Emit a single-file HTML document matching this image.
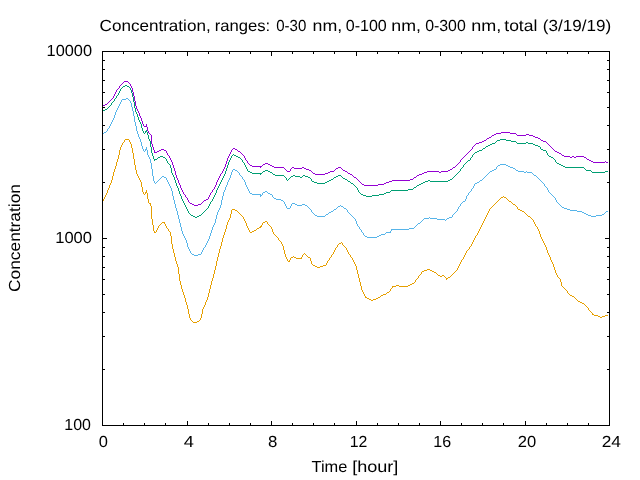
<!DOCTYPE html>
<html lang="en"><head><meta charset="utf-8"><title>Concentration</title>
<style>
html,body{margin:0;padding:0;background:#fff;width:640px;height:480px;overflow:hidden}
svg{display:block}
text{font-family:"Liberation Sans","DejaVu Sans",sans-serif;font-size:16px;fill:#000;text-rendering:geometricPrecision}
</style></head>
<body>
<svg width="640" height="480" viewBox="0 0 640 480">
<rect width="640" height="480" fill="#fff"/>
<g stroke="none" shape-rendering="crispEdges">
<path d="M157 151h2v1h-2zM238 151h2v1h-2zM555 151h2v1h-2zM501 132h9v1h-9zM392 180h18v1h-18zM489 137h2v1h-2zM535 137h3v1h-3zM389 181h3v1h-3zM306 169h3v1h-3zM450 169h2v1h-2zM364 185h14v1h-14zM587 159h2v1h-2zM124 81h4v1h-4zM479 142h3v1h-3zM144 126h3v1h-3zM287 171h3v1h-3zM330 171h4v1h-4zM345 171h2v1h-2zM427 171h12v1h-12zM441 171h7v1h-7zM252 166h10v1h-10zM272 166h2v1h-2zM294 168h8v1h-8zM304 168h2v1h-2zM336 168h2v1h-2zM362 184h2v1h-2zM378 184h6v1h-6zM487 138h2v1h-2zM538 138h2v1h-2zM315 174h10v1h-10zM350 174h2v1h-2zM419 174h3v1h-3zM204 200h2v1h-2zM313 173h2v1h-2zM325 173h3v1h-3zM348 173h2v1h-2zM422 173h2v1h-2zM482 141h2v1h-2zM543 141h3v1h-3zM265 163h3v1h-3zM570 157h2v1h-2zM574 157h2v1h-2zM584 157h2v1h-2zM564 156h6v1h-6zM572 156h2v1h-2zM576 156h8v1h-8zM250 165h2v1h-2zM270 165h2v1h-2zM161 149h3v1h-3zM235 149h2v1h-2zM309 170h2v1h-2zM343 170h2v1h-2zM448 170h2v1h-2zM263 164h2v1h-2zM268 164h2v1h-2zM492 135h2v1h-2zM517 135h9v1h-9zM529 135h4v1h-4zM159 150h2v1h-2zM164 150h2v1h-2zM206 199h2v1h-2zM274 167h10v1h-10zM292 167h2v1h-2zM302 167h2v1h-2zM338 167h3v1h-3zM453 167h2v1h-2zM192 204h2v1h-2zM198 204h3v1h-3zM533 136h2v1h-2zM593 162h12v1h-12zM606 162h2v1h-2zM328 172h2v1h-2zM424 172h3v1h-3zM439 172h2v1h-2zM233 148h2v1h-2zM354 177h2v1h-2zM414 177h2v1h-2zM484 140h2v1h-2zM541 140h2v1h-2zM591 161h2v1h-2zM194 205h4v1h-4zM103 105h2v1h-2zM417 175h2v1h-2zM154 152h3v1h-3zM557 152h2v1h-2zM496 133h5v1h-5zM510 133h6v1h-6zM190 203h2v1h-2zM476 143h3v1h-3zM562 155h2v1h-2zM386 182h3v1h-3zM494 134h2v1h-2zM526 134h3v1h-3zM410 179h3v1h-3zM105 104h2v1h-2zM384 183h2v1h-2zM559 153h2v1h-2zM589 160h2v1h-2zM201 203h1v1h-1zM550 146h1v1h-1zM143 124h1v2h-1zM286 170h1v1h-1zM152 144h1v3h-1zM119 86h1v2h-1zM176 175h1v3h-1zM148 131h1v2h-1zM459 162h1v1h-1zM290 169h1v2h-1zM461 159h1v1h-1zM151 135h1v9h-1zM174 168h1v3h-1zM226 161h1v3h-1zM135 101h1v5h-1zM141 118h1v3h-1zM452 168h1v1h-1zM457 164h1v1h-1zM138 111h1v2h-1zM244 156h1v2h-1zM516 134h1v1h-1zM215 185h1v2h-1zM227 158h1v3h-1zM219 176h1v2h-1zM182 190h1v2h-1zM222 171h1v2h-1zM179 183h1v2h-1zM134 96h1v5h-1zM231 150h1v2h-1zM146 124h1v2h-1zM168 155h1v1h-1zM245 158h1v2h-1zM248 163h1v1h-1zM132 88h1v4h-1zM183 192h1v2h-1zM142 121h1v3h-1zM150 134h1v1h-1zM353 176h1v1h-1zM347 172h1v1h-1zM284 168h1v1h-1zM262 165h1v1h-1zM180 185h1v3h-1zM153 147h1v3h-1zM188 200h1v2h-1zM285 169h1v1h-1zM225 164h1v3h-1zM136 106h1v3h-1zM166 151h1v2h-1zM260 167h1v1h-1zM463 157h1v1h-1zM209 195h1v2h-1zM211 192h1v1h-1zM464 156h1v1h-1zM175 171h1v4h-1zM130 84h1v2h-1zM177 178h1v2h-1zM342 169h1v1h-1zM218 178h1v2h-1zM113 96h1v2h-1zM173 165h1v3h-1zM460 160h1v2h-1zM462 158h1v1h-1zM605 161h1v1h-1zM210 193h1v2h-1zM140 116h1v2h-1zM109 101h1v1h-1zM139 113h1v3h-1zM458 163h1v1h-1zM178 180h1v3h-1zM133 92h1v4h-1zM121 84h1v1h-1zM229 154h1v2h-1zM147 127h1v4h-1zM224 167h1v2h-1zM216 182h1v3h-1zM171 160h1v2h-1zM107 103h1v1h-1zM167 153h1v2h-1zM561 154h1v1h-1zM108 102h1v1h-1zM456 165h1v1h-1zM185 195h1v2h-1zM170 158h1v2h-1zM117 89h1v1h-1zM208 197h1v2h-1zM120 85h1v1h-1zM137 109h1v2h-1zM291 168h1v1h-1zM243 155h1v1h-1zM186 197h1v1h-1zM116 90h1v2h-1zM586 158h1v1h-1zM455 166h1v1h-1zM223 169h1v2h-1zM221 173h1v1h-1zM312 172h1v1h-1zM189 202h1v1h-1zM128 82h1v1h-1zM413 178h1v1h-1zM169 156h1v2h-1zM220 174h1v2h-1zM214 187h1v2h-1zM472 147h1v2h-1zM240 152h1v1h-1zM475 144h1v1h-1zM474 145h1v1h-1zM249 164h1v1h-1zM357 179h1v1h-1zM187 198h1v2h-1zM470 150h1v1h-1zM471 149h1v1h-1zM473 146h1v1h-1zM335 169h1v1h-1zM491 136h1v1h-1zM114 94h1v2h-1zM416 176h1v1h-1zM115 92h1v2h-1zM469 151h1v1h-1zM230 152h1v2h-1zM241 153h1v1h-1zM172 162h1v3h-1zM217 180h1v2h-1zM154 150h1v2h-1zM242 154h1v1h-1zM311 171h1v1h-1zM468 152h1v1h-1zM548 144h1v1h-1zM247 161h1v2h-1zM360 182h1v1h-1zM181 188h1v2h-1zM356 178h1v1h-1zM131 86h1v2h-1zM361 183h1v1h-1zM228 156h1v2h-1zM202 202h1v1h-1zM203 201h1v1h-1zM549 145h1v1h-1zM129 83h1v1h-1zM546 142h1v1h-1zM358 180h1v1h-1zM213 189h1v1h-1zM212 190h1v2h-1zM118 88h1v1h-1zM551 147h1v1h-1zM334 170h1v1h-1zM486 139h1v1h-1zM552 148h1v1h-1zM547 143h1v1h-1zM467 153h1v1h-1zM359 181h1v1h-1zM149 133h1v1h-1zM352 175h1v1h-1zM232 149h1v1h-1zM553 149h1v1h-1zM465 155h1v1h-1zM466 154h1v1h-1zM246 160h1v1h-1zM184 194h1v1h-1zM112 98h1v1h-1zM341 168h1v1h-1zM540 139h1v1h-1zM110 100h1v1h-1zM111 99h1v1h-1zM237 150h1v1h-1zM554 150h1v1h-1zM122 83h1v1h-1zM123 82h1v1h-1z" fill="#9400d3"/>
<path d="M195 217h2v1h-2zM343 178h2v1h-2zM331 179h2v1h-2zM345 179h2v1h-2zM450 179h2v1h-2zM158 157h2v1h-2zM163 157h2v1h-2zM238 157h2v1h-2zM551 157h2v1h-2zM329 180h2v1h-2zM428 180h2v1h-2zM448 180h2v1h-2zM250 172h2v1h-2zM270 172h2v1h-2zM592 172h13v1h-13zM312 181h2v1h-2zM327 181h2v1h-2zM348 181h2v1h-2zM425 181h3v1h-3zM430 181h18v1h-18zM361 194h2v1h-2zM379 194h5v1h-5zM500 139h6v1h-6zM125 85h2v1h-2zM273 174h2v1h-2zM291 176h2v1h-2zM295 176h5v1h-5zM305 176h3v1h-3zM336 176h2v1h-2zM391 190h17v1h-17zM317 183h8v1h-8zM351 183h2v1h-2zM421 183h2v1h-2zM265 170h3v1h-3zM586 170h5v1h-5zM314 182h3v1h-3zM325 182h2v1h-2zM423 182h2v1h-2zM479 150h3v1h-3zM543 150h3v1h-3zM275 175h9v1h-9zM293 175h2v1h-2zM303 175h2v1h-2zM338 175h3v1h-3zM563 166h2v1h-2zM160 156h3v1h-3zM236 156h2v1h-2zM549 156h2v1h-2zM248 171h2v1h-2zM263 171h2v1h-2zM268 171h2v1h-2zM605 171h3v1h-3zM565 167h19v1h-19zM252 173h10v1h-10zM492 143h3v1h-3zM517 143h9v1h-9zM528 143h5v1h-5zM488 145h2v1h-2zM535 145h3v1h-3zM408 189h5v1h-5zM486 146h2v1h-2zM538 146h2v1h-2zM561 165h2v1h-2zM103 110h2v1h-2zM414 187h2v1h-2zM363 195h3v1h-3zM372 195h7v1h-7zM193 216h2v1h-2zM197 216h2v1h-2zM154 159h3v1h-3zM419 184h2v1h-2zM497 140h3v1h-3zM506 140h5v1h-5zM366 196h6v1h-6zM557 163h2v1h-2zM468 160h2v1h-2zM511 141h5v1h-5zM386 192h4v1h-4zM300 177h2v1h-2zM308 177h2v1h-2zM334 177h2v1h-2zM417 185h2v1h-2zM384 193h2v1h-2zM490 144h2v1h-2zM533 144h2v1h-2zM559 164h2v1h-2zM105 109h2v1h-2zM145 131h2v1h-2zM477 151h2v1h-2zM483 148h2v1h-2zM541 149h2v1h-2zM526 142h2v1h-2zM191 215h2v1h-2zM199 215h2v1h-2zM123 86h2v1h-2zM127 86h2v1h-2zM234 155h2v1h-2zM475 152h2v1h-2zM138 117h1v3h-1zM222 178h1v2h-1zM474 153h1v1h-1zM134 102h1v6h-1zM231 156h1v2h-1zM115 98h1v1h-1zM584 168h1v1h-1zM413 188h1v1h-1zM215 193h1v2h-1zM260 174h1v1h-1zM218 186h1v2h-1zM107 108h1v1h-1zM302 176h1v1h-1zM119 91h1v2h-1zM140 122h1v2h-1zM148 135h1v4h-1zM463 165h1v2h-1zM151 147h1v6h-1zM466 162h1v1h-1zM211 201h1v1h-1zM246 167h1v2h-1zM141 124h1v4h-1zM591 171h1v1h-1zM458 172h1v1h-1zM461 168h1v1h-1zM118 93h1v2h-1zM207 208h1v1h-1zM133 97h1v5h-1zM122 87h1v1h-1zM144 133h1v1h-1zM183 201h1v2h-1zM139 120h1v2h-1zM147 132h1v3h-1zM470 158h1v2h-1zM242 160h1v2h-1zM180 194h1v2h-1zM217 188h1v2h-1zM154 160h1v1h-1zM143 131h1v2h-1zM176 183h1v3h-1zM355 186h1v1h-1zM132 93h1v4h-1zM453 177h1v1h-1zM205 210h1v1h-1zM245 165h1v2h-1zM202 213h1v1h-1zM114 99h1v2h-1zM214 195h1v2h-1zM556 162h1v1h-1zM230 158h1v2h-1zM241 159h1v1h-1zM354 185h1v1h-1zM179 191h1v3h-1zM473 154h1v1h-1zM150 141h1v6h-1zM358 190h1v2h-1zM153 156h1v3h-1zM175 180h1v3h-1zM135 108h1v4h-1zM290 177h1v1h-1zM221 180h1v2h-1zM244 163h1v2h-1zM350 182h1v1h-1zM457 173h1v1h-1zM262 172h1v1h-1zM109 106h1v1h-1zM357 188h1v2h-1zM142 128h1v3h-1zM225 171h1v3h-1zM540 147h1v2h-1zM247 169h1v2h-1zM229 160h1v2h-1zM216 190h1v3h-1zM460 169h1v2h-1zM555 160h1v2h-1zM243 162h1v1h-1zM288 179h1v1h-1zM171 168h1v5h-1zM233 154h1v1h-1zM112 102h1v1h-1zM585 169h1v1h-1zM220 182h1v2h-1zM186 207h1v2h-1zM452 178h1v1h-1zM131 90h1v3h-1zM189 213h1v1h-1zM285 177h1v1h-1zM341 176h1v1h-1zM181 196h1v3h-1zM342 177h1v1h-1zM228 162h1v3h-1zM311 179h1v2h-1zM178 188h1v3h-1zM356 187h1v1h-1zM455 175h1v1h-1zM152 153h1v3h-1zM360 193h1v1h-1zM227 165h1v3h-1zM204 211h1v1h-1zM174 177h1v3h-1zM185 205h1v2h-1zM284 176h1v1h-1zM111 103h1v2h-1zM310 178h1v1h-1zM137 114h1v3h-1zM167 161h1v2h-1zM547 153h1v2h-1zM170 165h1v3h-1zM210 202h1v2h-1zM359 192h1v1h-1zM188 211h1v2h-1zM459 171h1v1h-1zM485 147h1v1h-1zM219 184h1v2h-1zM416 186h1v1h-1zM166 159h1v2h-1zM187 209h1v2h-1zM462 167h1v1h-1zM286 178h1v2h-1zM287 180h1v1h-1zM226 168h1v3h-1zM173 175h1v2h-1zM272 173h1v1h-1zM130 88h1v2h-1zM206 209h1v1h-1zM516 142h1v1h-1zM482 149h1v1h-1zM546 151h1v2h-1zM454 176h1v1h-1zM465 163h1v1h-1zM165 158h1v1h-1zM172 173h1v2h-1zM136 112h1v2h-1zM168 163h1v1h-1zM121 88h1v1h-1zM347 180h1v1h-1zM169 164h1v1h-1zM213 197h1v2h-1zM496 141h1v1h-1zM190 214h1v1h-1zM110 105h1v1h-1zM117 95h1v1h-1zM553 158h1v1h-1zM157 158h1v1h-1zM129 87h1v1h-1zM209 204h1v2h-1zM224 174h1v2h-1zM548 155h1v1h-1zM146 130h1v1h-1zM289 178h1v1h-1zM472 155h1v2h-1zM149 139h1v2h-1zM201 214h1v1h-1zM113 101h1v1h-1zM182 199h1v2h-1zM108 107h1v1h-1zM120 89h1v2h-1zM116 96h1v2h-1zM456 174h1v1h-1zM208 206h1v2h-1zM232 155h1v1h-1zM212 199h1v2h-1zM467 161h1v1h-1zM353 184h1v1h-1zM177 186h1v2h-1zM464 164h1v1h-1zM495 142h1v1h-1zM223 176h1v2h-1zM184 203h1v2h-1zM145 132h1v1h-1zM240 158h1v1h-1zM390 191h1v1h-1zM203 212h1v1h-1zM333 178h1v1h-1zM471 157h1v1h-1zM554 159h1v1h-1z" fill="#009e73"/>
<path d="M490 171h2v1h-2zM518 171h6v1h-6zM424 218h5v1h-5zM430 218h7v1h-7zM447 218h2v1h-2zM562 207h2v1h-2zM297 205h5v1h-5zM305 205h2v1h-2zM570 210h7v1h-7zM252 194h9v1h-9zM270 194h2v1h-2zM437 219h8v1h-8zM326 214h2v1h-2zM586 214h2v1h-2zM602 214h2v1h-2zM500 164h6v1h-6zM263 192h2v1h-2zM315 215h2v1h-2zM588 215h3v1h-3zM596 215h6v1h-6zM331 211h2v1h-2zM577 211h5v1h-5zM606 211h2v1h-2zM584 213h2v1h-2zM317 216h8v1h-8zM591 216h5v1h-5zM235 170h2v1h-2zM492 170h2v1h-2zM516 170h2v1h-2zM329 212h2v1h-2zM582 212h2v1h-2zM287 208h3v1h-3zM344 208h2v1h-2zM564 208h3v1h-3zM449 217h3v1h-3zM281 200h2v1h-2zM391 229h18v1h-18zM162 176h2v1h-2zM164 177h2v1h-2zM418 223h2v1h-2zM265 191h2v1h-2zM386 232h5v1h-5zM379 235h2v1h-2zM338 206h2v1h-2zM341 206h2v1h-2zM126 98h2v1h-2zM367 237h10v1h-10zM274 198h2v1h-2zM365 236h2v1h-2zM377 236h2v1h-2zM292 203h3v1h-3zM334 209h2v1h-2zM567 209h3v1h-3zM510 167h3v1h-3zM260 195h2v1h-2zM524 172h2v1h-2zM527 172h5v1h-5zM463 201h2v1h-2zM192 254h2v1h-2zM198 254h3v1h-3zM534 175h2v1h-2zM498 165h2v1h-2zM506 165h2v1h-2zM295 204h2v1h-2zM302 204h3v1h-3zM250 193h2v1h-2zM268 193h2v1h-2zM381 234h4v1h-4zM276 199h5v1h-5zM194 255h4v1h-4zM477 182h2v1h-2zM409 228h5v1h-5zM475 183h2v1h-2zM233 169h2v1h-2zM494 169h2v1h-2zM513 168h2v1h-2zM104 132h2v1h-2zM480 180h2v1h-2zM122 99h4v1h-4zM145 149h2v1h-2zM508 166h2v1h-2zM290 206h1v2h-1zM206 243h1v2h-1zM545 186h1v1h-1zM119 104h1v2h-1zM222 196h1v4h-1zM546 187h1v1h-1zM151 163h1v6h-1zM549 192h1v1h-1zM217 212h1v3h-1zM445 220h1v1h-1zM173 196h1v4h-1zM312 212h1v1h-1zM137 131h1v3h-1zM202 250h1v2h-1zM176 208h1v3h-1zM130 101h1v2h-1zM249 191h1v2h-1zM556 200h1v2h-1zM147 150h1v5h-1zM313 213h1v1h-1zM179 219h1v4h-1zM485 176h1v1h-1zM537 177h1v1h-1zM187 243h1v4h-1zM140 139h1v3h-1zM180 223h1v4h-1zM347 210h1v2h-1zM133 111h1v5h-1zM538 178h1v1h-1zM153 176h1v5h-1zM172 191h1v5h-1zM182 231h1v3h-1zM226 185h1v2h-1zM114 115h1v3h-1zM103 133h1v1h-1zM361 230h1v2h-1zM544 184h1v2h-1zM136 126h1v5h-1zM260 196h1v1h-1zM364 235h1v1h-1zM354 218h1v1h-1zM209 236h1v3h-1zM473 186h1v2h-1zM113 118h1v2h-1zM161 177h1v1h-1zM496 167h1v2h-1zM225 187h1v3h-1zM468 193h1v2h-1zM391 230h1v1h-1zM453 214h1v1h-1zM175 204h1v4h-1zM248 189h1v2h-1zM208 239h1v2h-1zM118 106h1v2h-1zM109 126h1v2h-1zM121 100h1v2h-1zM346 209h1v1h-1zM132 107h1v4h-1zM169 184h1v2h-1zM146 147h1v2h-1zM414 227h1v1h-1zM548 190h1v2h-1zM143 149h1v2h-1zM533 174h1v1h-1zM555 198h1v2h-1zM526 171h1v1h-1zM558 203h1v1h-1zM221 200h1v5h-1zM186 240h1v3h-1zM559 204h1v1h-1zM237 171h1v1h-1zM245 182h1v3h-1zM135 122h1v4h-1zM216 215h1v4h-1zM156 182h1v1h-1zM605 212h1v1h-1zM139 137h1v2h-1zM168 182h1v2h-1zM178 215h1v4h-1zM224 190h1v2h-1zM150 159h1v4h-1zM487 174h1v1h-1zM452 215h1v2h-1zM459 206h1v1h-1zM108 128h1v1h-1zM471 189h1v2h-1zM120 102h1v2h-1zM314 214h1v1h-1zM220 205h1v3h-1zM171 188h1v3h-1zM112 120h1v2h-1zM203 248h1v2h-1zM152 169h1v7h-1zM349 213h1v1h-1zM215 219h1v4h-1zM540 180h1v1h-1zM181 227h1v4h-1zM177 211h1v4h-1zM207 241h1v2h-1zM547 188h1v2h-1zM160 178h1v1h-1zM142 146h1v3h-1zM307 206h1v1h-1zM390 231h1v1h-1zM115 112h1v3h-1zM551 194h1v1h-1zM285 204h1v2h-1zM247 187h1v2h-1zM416 225h1v1h-1zM239 173h1v2h-1zM174 200h1v4h-1zM262 193h1v2h-1zM240 175h1v1h-1zM185 238h1v2h-1zM170 186h1v2h-1zM232 170h1v2h-1zM539 179h1v1h-1zM134 116h1v6h-1zM131 103h1v4h-1zM455 212h1v1h-1zM550 193h1v1h-1zM467 195h1v1h-1zM355 219h1v2h-1zM482 179h1v1h-1zM111 122h1v2h-1zM474 184h1v2h-1zM246 185h1v2h-1zM141 142h1v4h-1zM420 222h1v1h-1zM223 192h1v4h-1zM466 196h1v3h-1zM561 206h1v1h-1zM458 207h1v2h-1zM138 134h1v3h-1zM107 129h1v2h-1zM167 180h1v2h-1zM470 191h1v1h-1zM219 208h1v2h-1zM231 172h1v3h-1zM211 230h1v3h-1zM144 151h1v1h-1zM214 223h1v2h-1zM158 180h1v1h-1zM210 233h1v3h-1zM486 175h1v1h-1zM166 178h1v2h-1zM461 203h1v1h-1zM336 208h1v1h-1zM286 206h1v2h-1zM340 205h1v1h-1zM205 245h1v2h-1zM560 205h1v1h-1zM154 181h1v2h-1zM343 207h1v1h-1zM489 172h1v1h-1zM238 172h1v1h-1zM457 209h1v2h-1zM230 175h1v3h-1zM446 219h1v1h-1zM155 183h1v1h-1zM218 210h1v2h-1zM242 177h1v2h-1zM497 166h1v1h-1zM201 252h1v2h-1zM350 214h1v1h-1zM110 124h1v2h-1zM190 251h1v2h-1zM328 213h1v1h-1zM351 215h1v1h-1zM465 199h1v2h-1zM542 182h1v1h-1zM552 195h1v1h-1zM415 226h1v1h-1zM553 196h1v1h-1zM283 201h1v1h-1zM515 169h1v1h-1zM183 234h1v2h-1zM541 181h1v1h-1zM241 176h1v1h-1zM106 131h1v1h-1zM469 192h1v1h-1zM357 224h1v2h-1zM484 177h1v1h-1zM189 249h1v2h-1zM422 220h1v1h-1zM213 225h1v2h-1zM358 226h1v1h-1zM308 207h1v1h-1zM229 178h1v2h-1zM309 208h1v1h-1zM244 180h1v2h-1zM267 192h1v1h-1zM117 108h1v2h-1zM157 181h1v1h-1zM488 173h1v1h-1zM212 227h1v3h-1zM604 213h1v1h-1zM460 204h1v2h-1zM243 179h1v1h-1zM472 188h1v1h-1zM429 217h1v1h-1zM356 221h1v3h-1zM352 216h1v1h-1zM360 229h1v1h-1zM204 247h1v1h-1zM128 99h1v1h-1zM353 217h1v1h-1zM311 210h1v2h-1zM456 211h1v1h-1zM284 202h1v2h-1zM149 157h1v2h-1zM129 100h1v1h-1zM536 176h1v1h-1zM184 236h1v2h-1zM116 110h1v2h-1zM479 181h1v1h-1zM228 180h1v2h-1zM417 224h1v1h-1zM483 178h1v1h-1zM359 227h1v2h-1zM188 247h1v2h-1zM273 197h1v1h-1zM421 221h1v1h-1zM191 253h1v1h-1zM227 182h1v3h-1zM532 173h1v1h-1zM310 209h1v1h-1zM291 204h1v2h-1zM554 197h1v1h-1zM454 213h1v1h-1zM272 195h1v2h-1zM543 183h1v1h-1zM363 233h1v2h-1zM148 155h1v2h-1zM557 202h1v1h-1zM145 150h1v1h-1zM333 210h1v1h-1zM159 179h1v1h-1zM348 212h1v1h-1zM362 232h1v1h-1zM385 233h1v1h-1zM325 215h1v1h-1zM462 202h1v1h-1zM337 207h1v1h-1zM423 219h1v1h-1z" fill="#56b4e9"/>
<path d="M501 197h2v1h-2zM504 197h2v1h-2zM257 228h2v1h-2zM410 284h2v1h-2zM291 257h2v1h-2zM294 257h2v1h-2zM308 257h2v1h-2zM412 283h2v1h-2zM424 270h3v1h-3zM430 270h2v1h-2zM265 221h2v1h-2zM162 222h3v1h-3zM263 222h2v1h-2zM149 203h2v1h-2zM317 267h3v1h-3zM440 276h2v1h-2zM434 272h2v1h-2zM259 227h2v1h-2zM125 139h4v1h-4zM448 277h2v1h-2zM392 286h4v1h-4zM399 286h9v1h-9zM145 192h2v1h-2zM598 316h2v1h-2zM602 316h3v1h-3zM288 261h2v1h-2zM369 299h2v1h-2zM373 299h3v1h-3zM383 294h3v1h-3zM254 230h2v1h-2zM578 301h2v1h-2zM232 209h3v1h-3zM518 209h2v1h-2zM422 271h2v1h-2zM432 271h2v1h-2zM260 226h2v1h-2zM387 292h2v1h-2zM365 297h2v1h-2zM378 297h2v1h-2zM509 201h2v1h-2zM235 210h2v1h-2zM520 210h2v1h-2zM572 296h2v1h-2zM446 278h2v1h-2zM315 266h2v1h-2zM320 266h3v1h-3zM522 211h2v1h-2zM313 265h2v1h-2zM323 265h3v1h-3zM594 315h4v1h-4zM605 315h3v1h-3zM513 204h2v1h-2zM296 258h6v1h-6zM427 269h3v1h-3zM396 285h3v1h-3zM408 285h2v1h-2zM438 275h2v1h-2zM442 275h2v1h-2zM252 231h2v1h-2zM381 295h2v1h-2zM570 295h2v1h-2zM339 243h2v1h-2zM154 232h2v1h-2zM250 232h2v1h-2zM371 300h2v1h-2zM528 216h2v1h-2zM193 322h4v1h-4zM367 298h2v1h-2zM376 298h2v1h-2zM600 317h2v1h-2zM582 303h2v1h-2zM197 321h2v1h-2zM592 314h2v1h-2zM580 302h2v1h-2zM104 197h1v2h-1zM229 218h1v2h-1zM480 227h1v2h-1zM360 282h1v4h-1zM175 257h1v4h-1zM561 282h1v4h-1zM289 260h1v1h-1zM533 220h1v2h-1zM220 246h1v3h-1zM326 263h1v2h-1zM534 222h1v2h-1zM109 185h1v3h-1zM132 148h1v5h-1zM495 203h1v1h-1zM565 289h1v1h-1zM178 267h1v7h-1zM224 232h1v3h-1zM418 276h1v2h-1zM421 272h1v2h-1zM537 227h1v2h-1zM150 204h1v2h-1zM547 250h1v3h-1zM555 270h1v3h-1zM267 222h1v2h-1zM113 172h1v4h-1zM161 223h1v1h-1zM558 277h1v1h-1zM476 235h1v1h-1zM112 176h1v4h-1zM153 225h1v6h-1zM245 221h1v2h-1zM200 318h1v2h-1zM226 225h1v4h-1zM181 285h1v4h-1zM143 192h1v2h-1zM216 261h1v5h-1zM281 242h1v2h-1zM204 305h1v2h-1zM108 188h1v2h-1zM136 170h1v4h-1zM311 261h1v3h-1zM129 140h1v2h-1zM208 293h1v4h-1zM456 270h1v1h-1zM506 198h1v1h-1zM121 145h1v2h-1zM168 229h1v2h-1zM185 298h1v4h-1zM472 242h1v2h-1zM221 242h1v4h-1zM142 187h1v5h-1zM576 299h1v1h-1zM536 226h1v1h-1zM356 266h1v4h-1zM188 309h1v5h-1zM171 236h1v8h-1zM507 199h1v1h-1zM225 229h1v3h-1zM557 275h1v2h-1zM184 295h1v3h-1zM212 278h1v3h-1zM532 219h1v1h-1zM135 165h1v5h-1zM262 223h1v2h-1zM342 243h1v2h-1zM120 147h1v3h-1zM471 244h1v2h-1zM177 264h1v3h-1zM240 214h1v1h-1zM274 234h1v1h-1zM359 278h1v4h-1zM304 253h1v1h-1zM244 219h1v2h-1zM211 281h1v4h-1zM466 251h1v2h-1zM499 199h1v1h-1zM152 219h1v6h-1zM215 266h1v4h-1zM490 208h1v1h-1zM333 252h1v2h-1zM540 234h1v3h-1zM116 162h1v4h-1zM310 258h1v3h-1zM550 257h1v3h-1zM164 223h1v1h-1zM174 253h1v4h-1zM436 273h1v1h-1zM564 288h1v1h-1zM417 278h1v1h-1zM107 190h1v3h-1zM284 250h1v4h-1zM134 159h1v6h-1zM539 231h1v3h-1zM273 232h1v2h-1zM207 297h1v3h-1zM111 180h1v3h-1zM454 272h1v1h-1zM486 215h1v2h-1zM199 320h1v1h-1zM329 258h1v2h-1zM587 307h1v1h-1zM115 166h1v3h-1zM247 226h1v2h-1zM341 242h1v1h-1zM203 307h1v2h-1zM202 309h1v5h-1zM103 199h1v2h-1zM228 220h1v2h-1zM479 229h1v2h-1zM543 241h1v2h-1zM363 292h1v2h-1zM206 300h1v2h-1zM159 225h1v1h-1zM187 305h1v4h-1zM170 232h1v4h-1zM243 217h1v2h-1zM503 196h1v1h-1zM553 264h1v3h-1zM210 285h1v4h-1zM131 144h1v4h-1zM180 281h1v4h-1zM517 207h1v2h-1zM223 235h1v3h-1zM420 274h1v1h-1zM586 306h1v1h-1zM191 320h1v1h-1zM124 140h1v2h-1zM227 222h1v3h-1zM560 279h1v3h-1zM535 224h1v2h-1zM494 204h1v1h-1zM556 273h1v2h-1zM148 199h1v4h-1zM219 249h1v4h-1zM151 206h1v13h-1zM246 223h1v3h-1zM546 247h1v3h-1zM348 252h1v2h-1zM389 291h1v1h-1zM451 275h1v1h-1zM144 194h1v1h-1zM269 225h1v1h-1zM190 318h1v2h-1zM542 239h1v2h-1zM362 290h1v2h-1zM166 226h1v2h-1zM106 193h1v2h-1zM218 253h1v4h-1zM485 217h1v2h-1zM461 260h1v2h-1zM167 228h1v1h-1zM119 150h1v5h-1zM336 247h1v1h-1zM497 201h1v1h-1zM231 210h1v4h-1zM538 229h1v2h-1zM201 314h1v4h-1zM141 182h1v5h-1zM549 255h1v2h-1zM567 291h1v2h-1zM205 302h1v3h-1zM465 253h1v2h-1zM478 231h1v2h-1zM173 249h1v4h-1zM272 229h1v3h-1zM183 292h1v3h-1zM512 203h1v1h-1zM214 270h1v4h-1zM332 254h1v1h-1zM158 226h1v2h-1zM176 261h1v3h-1zM355 264h1v2h-1zM179 274h1v7h-1zM344 246h1v1h-1zM545 245h1v2h-1zM222 238h1v4h-1zM365 296h1v1h-1zM189 314h1v4h-1zM172 244h1v5h-1zM358 274h1v4h-1zM474 238h1v2h-1zM306 255h1v1h-1zM165 224h1v2h-1zM287 259h1v2h-1zM114 169h1v3h-1zM130 142h1v2h-1zM118 155h1v4h-1zM147 193h1v6h-1zM261 225h1v1h-1zM209 289h1v4h-1zM470 246h1v1h-1zM283 246h1v4h-1zM566 290h1v1h-1zM589 310h1v1h-1zM468 249h1v1h-1zM559 278h1v1h-1zM182 289h1v3h-1zM217 257h1v4h-1zM343 245h1v1h-1zM489 209h1v2h-1zM492 206h1v1h-1zM301 257h1v1h-1zM230 214h1v4h-1zM241 215h1v1h-1zM541 237h1v2h-1zM361 286h1v4h-1zM544 243h1v2h-1zM364 294h1v2h-1zM242 216h1v1h-1zM305 254h1v1h-1zM357 270h1v4h-1zM464 255h1v2h-1zM186 302h1v3h-1zM169 231h1v1h-1zM419 275h1v1h-1zM133 153h1v6h-1zM213 274h1v4h-1zM286 257h1v2h-1zM551 260h1v2h-1zM588 308h1v2h-1zM508 200h1v1h-1zM414 282h1v1h-1zM453 273h1v1h-1zM548 253h1v2h-1zM328 260h1v1h-1zM331 255h1v2h-1zM460 262h1v2h-1zM293 256h1v1h-1zM354 262h1v2h-1zM484 219h1v2h-1zM140 180h1v2h-1zM275 235h1v1h-1zM335 248h1v2h-1zM347 250h1v2h-1zM350 255h1v2h-1zM276 236h1v1h-1zM351 257h1v1h-1zM477 233h1v2h-1zM157 228h1v2h-1zM437 274h1v1h-1zM475 236h1v2h-1zM488 211h1v2h-1zM391 288h1v1h-1zM569 294h1v1h-1zM353 260h1v2h-1zM105 195h1v2h-1zM117 159h1v3h-1zM271 227h1v2h-1zM554 267h1v3h-1zM139 178h1v2h-1zM346 248h1v2h-1zM496 202h1v1h-1zM327 261h1v2h-1zM285 254h1v3h-1zM256 229h1v1h-1zM192 321h1v1h-1zM459 264h1v2h-1zM444 276h1v1h-1zM483 221h1v2h-1zM562 286h1v1h-1zM160 224h1v1h-1zM568 293h1v1h-1zM463 257h1v2h-1zM349 254h1v1h-1zM146 190h1v2h-1zM237 211h1v1h-1zM352 258h1v2h-1zM270 226h1v1h-1zM278 238h1v2h-1zM345 247h1v1h-1zM156 230h1v2h-1zM338 244h1v1h-1zM386 293h1v1h-1zM487 213h1v2h-1zM307 256h1v1h-1zM390 289h1v2h-1zM467 250h1v1h-1zM590 311h1v1h-1zM491 207h1v1h-1zM334 250h1v2h-1zM303 254h1v1h-1zM591 312h1v1h-1zM277 237h1v1h-1zM455 271h1v1h-1zM416 279h1v1h-1zM525 213h1v1h-1zM498 200h1v1h-1zM138 176h1v2h-1zM458 266h1v2h-1zM524 212h1v1h-1zM482 223h1v2h-1zM123 142h1v1h-1zM330 257h1v1h-1zM145 193h1v1h-1zM446 279h1v1h-1zM450 276h1v1h-1zM473 240h1v2h-1zM575 298h1v1h-1zM462 259h1v1h-1zM337 245h1v2h-1zM137 174h1v2h-1zM239 213h1v1h-1zM469 247h1v2h-1zM302 255h1v2h-1zM574 297h1v1h-1zM445 277h1v1h-1zM249 230h1v2h-1zM457 268h1v2h-1zM563 287h1v1h-1zM290 258h1v2h-1zM415 280h1v2h-1zM481 225h1v2h-1zM110 183h1v2h-1zM279 240h1v1h-1zM312 264h1v1h-1zM280 241h1v1h-1zM493 205h1v1h-1zM552 262h1v2h-1zM516 206h1v1h-1zM530 217h1v1h-1zM122 143h1v2h-1zM248 228h1v2h-1zM531 218h1v1h-1zM380 296h1v1h-1zM154 231h1v1h-1zM238 212h1v1h-1zM592 313h1v1h-1zM282 244h1v2h-1zM515 205h1v1h-1zM452 274h1v1h-1zM527 215h1v1h-1zM500 198h1v1h-1zM584 304h1v1h-1zM585 305h1v1h-1zM577 300h1v1h-1zM511 202h1v1h-1zM268 224h1v1h-1zM392 287h1v1h-1zM526 214h1v1h-1z" fill="#e69f00"/>
</g>
<path d="M123 423h1v2h-1zM123 52h1v2h-1zM144 423h1v2h-1zM144 52h1v2h-1zM165 423h1v2h-1zM165 52h1v2h-1zM187 421h1v4h-1zM187 52h1v4h-1zM208 423h1v2h-1zM208 52h1v2h-1zM229 423h1v2h-1zM229 52h1v2h-1zM250 423h1v2h-1zM250 52h1v2h-1zM271 421h1v4h-1zM271 52h1v4h-1zM292 423h1v2h-1zM292 52h1v2h-1zM313 423h1v2h-1zM313 52h1v2h-1zM334 423h1v2h-1zM334 52h1v2h-1zM356 421h1v4h-1zM356 52h1v4h-1zM377 423h1v2h-1zM377 52h1v2h-1zM398 423h1v2h-1zM398 52h1v2h-1zM419 423h1v2h-1zM419 52h1v2h-1zM440 421h1v4h-1zM440 52h1v4h-1zM461 423h1v2h-1zM461 52h1v2h-1zM482 423h1v2h-1zM482 52h1v2h-1zM503 423h1v2h-1zM503 52h1v2h-1zM525 421h1v4h-1zM525 52h1v4h-1zM546 423h1v2h-1zM546 52h1v2h-1zM567 423h1v2h-1zM567 52h1v2h-1zM588 423h1v2h-1zM588 52h1v2h-1zM103 369h2v1h-2zM607 369h2v1h-2zM103 336h2v1h-2zM607 336h2v1h-2zM103 312h2v1h-2zM607 312h2v1h-2zM103 294h2v1h-2zM607 294h2v1h-2zM103 279h2v1h-2zM607 279h2v1h-2zM103 267h2v1h-2zM607 267h2v1h-2zM103 256h2v1h-2zM607 256h2v1h-2zM103 247h2v1h-2zM607 247h2v1h-2zM103 238h4v1h-4zM605 238h4v1h-4zM103 182h2v1h-2zM607 182h2v1h-2zM103 149h2v1h-2zM607 149h2v1h-2zM103 125h2v1h-2zM607 125h2v1h-2zM103 107h2v1h-2zM607 107h2v1h-2zM103 92h2v1h-2zM607 92h2v1h-2zM103 80h2v1h-2zM607 80h2v1h-2zM103 69h2v1h-2zM607 69h2v1h-2zM103 60h2v1h-2zM607 60h2v1h-2zM102 51h508v1h-508zM102 425h508v1h-508zM102 51h1v375h-1zM609 51h1v375h-1z" fill="#000" stroke="none" shape-rendering="crispEdges"/>
<g>
<text y="31"><tspan x="99.57" textLength="111.08" lengthAdjust="spacingAndGlyphs">Concentration,</tspan> <tspan x="214.70" textLength="55.56" lengthAdjust="spacingAndGlyphs">ranges:</tspan> <tspan x="276.20" textLength="30.06" lengthAdjust="spacingAndGlyphs">0-30</tspan> <tspan x="312.52" textLength="29.64" lengthAdjust="spacingAndGlyphs">nm,</tspan> <tspan x="345.74" textLength="41.03" lengthAdjust="spacingAndGlyphs">0-100</tspan> <tspan x="391.26" textLength="29.63" lengthAdjust="spacingAndGlyphs">nm,</tspan> <tspan x="425.13" textLength="40.62" lengthAdjust="spacingAndGlyphs">0-300</tspan> <tspan x="471.19" textLength="29.99" lengthAdjust="spacingAndGlyphs">nm,</tspan> <tspan x="504.28" textLength="33.11" lengthAdjust="spacingAndGlyphs">total</tspan> <tspan x="542.85" textLength="68.33" lengthAdjust="spacingAndGlyphs">(3/19/19)</tspan></text>
</g>
<g>
<text x="46.59" y="56" textLength="45.47" lengthAdjust="spacingAndGlyphs">10000</text>
<text x="55.26" y="243" textLength="36.69" lengthAdjust="spacingAndGlyphs">1000</text>
<text x="64.35" y="430" textLength="26.63" lengthAdjust="spacingAndGlyphs">100</text>
</g>
<g>
<text x="98.81" y="447.4" textLength="9.16" lengthAdjust="spacingAndGlyphs">0</text>
<text x="183.84" y="447.4" textLength="10.14" lengthAdjust="spacingAndGlyphs">4</text>
<text x="267.95" y="447.4" textLength="9.36" lengthAdjust="spacingAndGlyphs">8</text>
<text x="349.76" y="447.4" textLength="17.63" lengthAdjust="spacingAndGlyphs">12</text>
<text x="433.31" y="447.4" textLength="17.84" lengthAdjust="spacingAndGlyphs">16</text>
<text x="517.85" y="447.4" textLength="18.44" lengthAdjust="spacingAndGlyphs">20</text>
<text x="601.66" y="447.4" textLength="19.22" lengthAdjust="spacingAndGlyphs">24</text>
</g>
<g>
<text y="472"><tspan x="311.49" textLength="35.78" lengthAdjust="spacingAndGlyphs">Time</tspan> <tspan x="352.18" textLength="46.19" lengthAdjust="spacingAndGlyphs">[hour]</tspan></text>
</g>
<text transform="translate(20 238) rotate(-90)" text-anchor="middle" textLength="107.8" lengthAdjust="spacingAndGlyphs">Concentration</text>
</svg>
</body></html>
